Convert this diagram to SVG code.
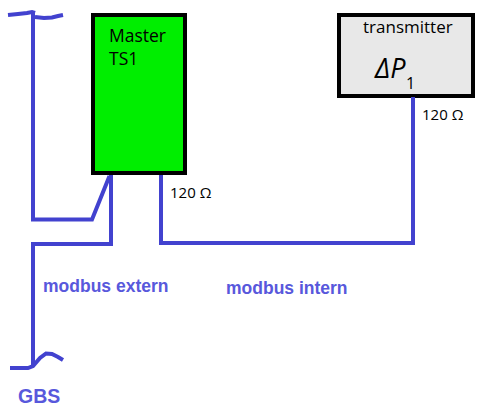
<svg xmlns="http://www.w3.org/2000/svg" width="477" height="408" viewBox="0 0 477 408">
<style>
.wire{fill:none;stroke:#4242cf;stroke-width:4;stroke-linejoin:miter}
.box{stroke:#000;stroke-width:4}
.lbl{font-family:"Open Sans","DejaVu Sans",sans-serif;fill:#000}
.blue{font-family:"Liberation Sans",Arial,sans-serif;font-weight:bold;fill:#5858dc}
</style>
<rect width="477" height="408" fill="#fff"/>
<g id="master">
<rect class="box" x="93" y="15" width="92" height="158" fill="#00ee00"/>
<text class="lbl" x="109" y="42" font-size="17.5">Master</text>
<text class="lbl" x="109" y="65" font-size="17.5">TS1</text>
</g>
<g id="transmitter">
<rect class="box" x="339" y="15" width="134" height="81" fill="#e8e8e8"/>
<text class="lbl" x="363" y="33" font-size="17">transmitter</text>
<text x="375" y="78" font-family="'Open Sans','DejaVu Sans',sans-serif" font-size="27" font-style="italic">ΔP</text>
<text class="lbl" x="406" y="89" font-size="16">1</text>
</g>
<g id="connectors">
<path class="wire" d="M8,15 L18,14 L27,13 L32,12 L35,13"/>
<path class="wire" d="M35,17 L44,18 L52,17.5 L58,16 L63,15"/>
<path class="wire" d="M33,13 L33,219.5 L92,219.5 L109.5,176"/>
<path class="wire" d="M111,175 L111,244 L33,244 L33,367"/>
<path class="wire" d="M10,368 L28,368 L33,366 L40,358 L46,353.5 L52,354 L58,357 L63,360"/>
<path class="wire" d="M161,175 L161,243 L413,243 L413,97"/>
</g>
<g id="labels">
<text class="lbl" x="170" y="198" font-size="15">120 Ω</text>
<text class="lbl" x="422" y="120" font-size="15">120 Ω</text>
<text class="blue" x="43" y="292" font-size="17.5">modbus extern</text>
<text class="blue" x="226" y="294" font-size="17.5">modbus intern</text>
<text class="blue" x="18" y="403" font-size="19.5">GBS</text>
</g>
</svg>
